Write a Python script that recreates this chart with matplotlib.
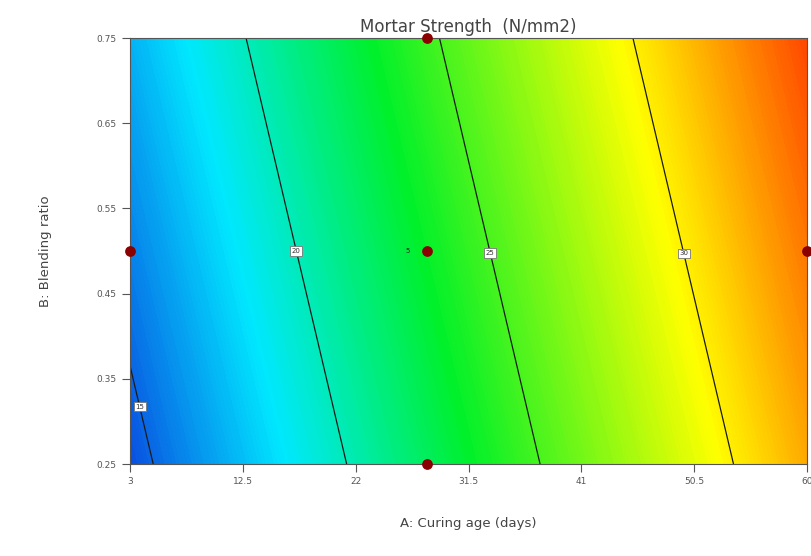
import numpy as np
import matplotlib
matplotlib.use("Agg")
import matplotlib.pyplot as plt
import matplotlib.tri as mtri
from matplotlib.colors import LinearSegmentedColormap

# -----------------------------
# Data
# -----------------------------
# estimated strength on a 3x3 grid of curing age / blending ratio
curing_age = [3, 31.5, 60]
blend_ratio = [0.25, 0.5, 0.75]
strength = [
    [14.4, 23.15, 31.9],   # B = 0.25
    [15.7, 24.45, 33.2],   # B = 0.50
    [17.0, 25.75, 34.5],   # B = 0.75
]
contour_levels = [15, 20, 25, 30]

# design points
design_a = [28, 3, 28, 60, 28]
design_b = [0.75, 0.5, 0.5, 0.5, 0.25]

x_ticks = [3, 12.5, 22, 31.5, 41, 50.5, 60]
x_ticklabels = ["3", "12.5", "22", "31.5", "41", "50.5", "60"]
y_ticks = [0.25, 0.35, 0.45, 0.55, 0.65, 0.75]
y_ticklabels = ["0.25", "0.35", "0.45", "0.55", "0.65", "0.75"]

# -----------------------------
# Build triangulation
# -----------------------------
AA, BB = np.meshgrid(curing_age, blend_ratio)
tri = mtri.Triangulation(AA.ravel(), BB.ravel())
zz = np.array(strength).ravel()

cmap = LinearSegmentedColormap.from_list(
    "de", [(0.0, "#0a50e0"), (0.2, "#00e8ff"), (0.44, "#00f02a"),
           (0.76, "#ffff00"), (1.0, "#ff4800")]
)

# -----------------------------
# Plot
# -----------------------------
fig = plt.figure(figsize=(8.11, 5.56), dpi=100)
ax = fig.add_axes([130 / 811, 92 / 556, 677 / 811, 426 / 556])

ax.tricontourf(tri, zz, levels=np.linspace(zz.min(), zz.max(), 200), cmap=cmap)
cs = ax.tricontour(tri, zz, levels=contour_levels, colors="#1a1a1a", linewidths=0.9)
labels = ax.clabel(cs, inline=False, fontsize=5, fmt="%d", colors="#333333",
                   manual=[(4.6, 0.32), (17, 0.5), (34, 0.5), (50.5, 0.5)])
for t in labels:
    t.set_rotation(0)
    t.set_bbox(dict(facecolor="white", edgecolor="#777777", pad=1.2, lw=0.6))

ax.scatter(design_a, design_b, s=45, color="#8b0000", zorder=5, clip_on=False)
ax.text(26.6, 0.5, "5", fontsize=5, color="#222222", ha="right", va="center")

ax.set_xlim(3, 60)
ax.set_ylim(0.25, 0.75)
ax.set_xticks(x_ticks)
ax.set_xticklabels(x_ticklabels)
ax.set_yticks(y_ticks)
ax.set_yticklabels(y_ticklabels)
ax.tick_params(labelsize=6.5, colors="#555555", length=6, width=0.8)

for s in ax.spines.values():
    s.set_color("#555555")
    s.set_linewidth(0.8)

ax.set_title("Mortar Strength  (N/mm2)", fontsize=12, color="#444444", pad=4)
ax.set_xlabel("A: Curing age (days)", fontsize=9.5, color="#444444", labelpad=22)
ax.set_ylabel("B: Blending ratio", fontsize=9.5, color="#444444", labelpad=32)

fig.savefig("out.png", dpi=100)
